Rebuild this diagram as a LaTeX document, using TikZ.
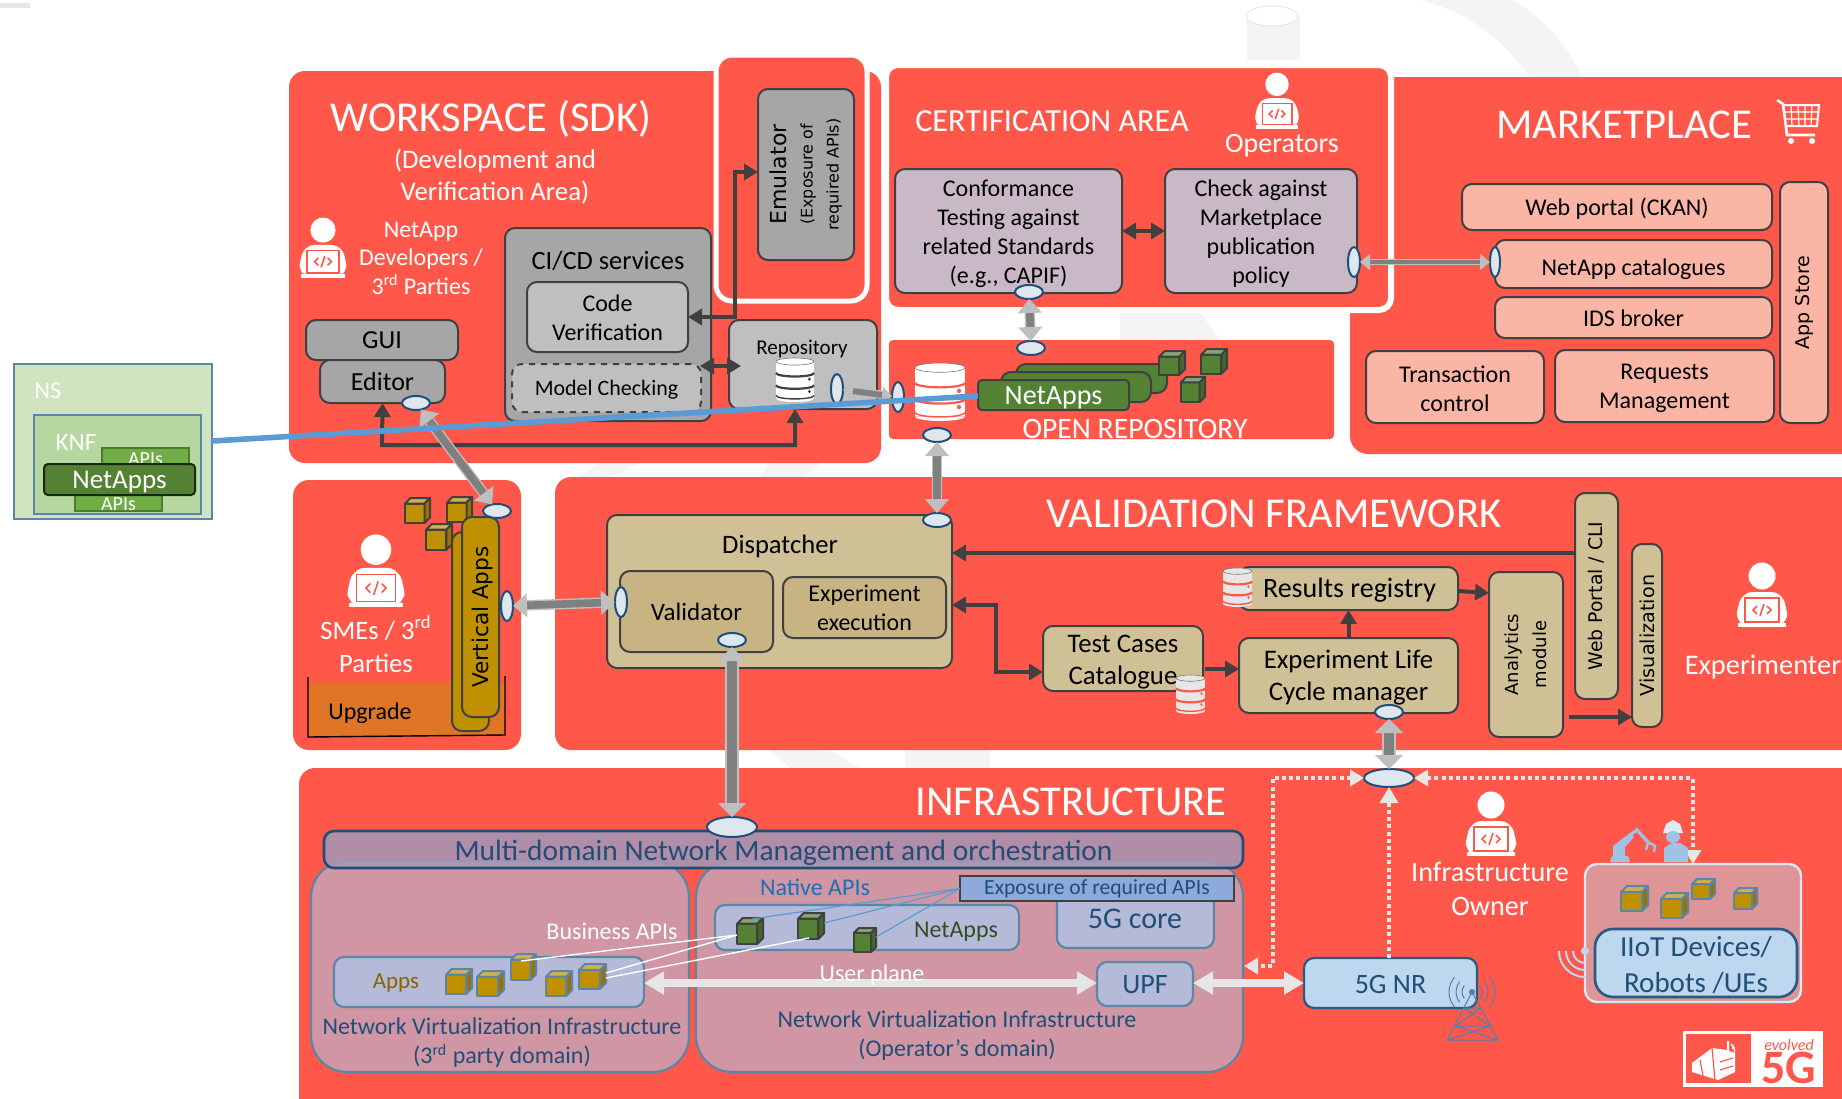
\documentclass[tikz,border=0pt]{standalone}
\usepackage{fontspec}
\setmainfont{Carlito}
\newfontfamily\djv{DejaVu Sans}
\usetikzlibrary{arrows.meta,shapes.geometric,calc}
\definecolor{redbg}{HTML}{FF584A}
\definecolor{greyA}{HTML}{A6A6A6}
\definecolor{greyB}{HTML}{BFBFBF}
\definecolor{darkln}{HTML}{404040}
\definecolor{lilac}{HTML}{C9B8C6}
\definecolor{salmon}{HTML}{FBB5A5}
\definecolor{tan}{HTML}{D0C096}
\definecolor{tanB}{HTML}{C8B482}
\definecolor{gold}{HTML}{BF9000}
\definecolor{nvi}{HTML}{D096A3}
\definecolor{peri}{HTML}{B4BAD8}
\definecolor{navy}{HTML}{1F4E79}
\definecolor{steel}{HTML}{5B86A8}
\definecolor{lblue}{HTML}{BDD7EE}
\definecolor{green}{HTML}{548235}
\definecolor{greenL}{HTML}{70AD47}
\definecolor{wm}{HTML}{F4F4F4}
\definecolor{whiteish}{HTML}{E6E6E6}
\definecolor{mdomc}{HTML}{A796B5}
\definecolor{expoc}{HTML}{8EA9DB}
\definecolor{linkb}{HTML}{5B9BD5}
\definecolor{upgc}{HTML}{DF7525}
\definecolor{nsc}{HTML}{D0E4C0}
\definecolor{knfc}{HTML}{B7D7A0}
\definecolor{iotc}{HTML}{DE9598}
\definecolor{robc}{HTML}{9DC3E6}
\definecolor{native}{HTML}{1F6FB5}
\definecolor{towerc}{HTML}{4F7FB0}
\definecolor{shaft}{HTML}{808080}
\tikzset{
  x=0.5pt,y=-0.5pt,
  every node/.style={inner sep=0pt,outer sep=0pt,align=center,text=black},
  region/.style={fill=redbg,rounded corners=8pt},
  box/.style={draw=darkln,line width=1pt,rounded corners=5pt,font=\fontsize{12}{14.5}\selectfont},
  gbox/.style={box,fill=greyA},
  gboxL/.style={box,fill=greyB},
  lilacbox/.style={box,fill=lilac},
  salbox/.style={box,fill=salmon},
  tanbox/.style={box,fill=tan},
  tanboxB/.style={box,fill=tanB},
  perbox/.style={draw=steel,line width=1.1pt,fill=peri,rounded corners=5pt,text=navy,font=\fontsize{12.5}{15}\selectfont},
  bluebox/.style={draw=navy!80!steel,line width=1.1pt,fill=lblue,rounded corners=5pt,text=navy,font=\fontsize{14}{17}\selectfont},
  wt/.style={text=white,font=\fontsize{12}{14.5}\selectfont},
  bigwt/.style={text=white,font=\fontsize{21.3}{25}\selectfont},
  rot/.style={rotate=90,font=\djv\fontsize{9.4}{11}\selectfont},
  port/.style={ellipse,draw=navy,fill=white!80!steel,line width=1pt},
  portH/.style={port,minimum width=14pt,minimum height=7pt},
  portV/.style={port,minimum width=6pt,minimum height=15pt},
  darr/.style={draw=darkln,line width=2pt,-{Triangle[width=8pt,length=7pt]}},
  darrb/.style={draw=darkln,line width=2pt,{Triangle[width=8pt,length=7pt]}-{Triangle[width=8pt,length=7pt]}},
  gdbl/.style={draw=greyB,line width=.7pt,double=shaft,double distance=3.8pt,{Triangle[width=12pt,length=7pt,fill=greyB,color=greyB]}-{Triangle[width=12pt,length=7pt,fill=greyB,color=greyB]}},
  gfat/.style={draw=greyB,line width=.7pt,double=shaft,double distance=5.4pt,{Triangle[width=14pt,length=7pt,fill=greyB,color=greyB]}-{Triangle[width=14pt,length=7pt,fill=greyB,color=greyB]}},
  gthin/.style={draw=greyB,line width=.6pt,double=shaft,double distance=2.2pt,{Triangle[width=8pt,length=5pt,fill=greyB,color=greyB]}-{Triangle[width=8pt,length=5pt,fill=greyB,color=greyB]}},
  wdbl/.style={draw=whiteish,line width=4pt,{Triangle[width=11pt,length=10pt]}-{Triangle[width=11pt,length=10pt]}},
  dots/.style={draw=whiteish,line width=1.7pt,dash pattern=on 2pt off 1.6pt},
  dotarr/.style={dots,-{Triangle[width=9pt,length=8pt]}},
  dotarrb/.style={dots,{Triangle[width=8pt,length=7pt]}-{Triangle[width=8pt,length=7pt]}},
  pics/person/.style={code={
    \fill[white] (0,13) ellipse (13.5 and 13.5);
    \fill[white,rounded corners=2pt] (-14,29) -- (14,29) -- (22,36) -- (26,54) -- (21,59) -- (21,62) -- (-21,62) -- (-21,59) -- (-26,54) -- (-22,36) -- cycle;
    \draw[redbg,line width=.7pt,fill=white] (-17,35) rectangle (17,59);
    \fill[white] (-24,60) rectangle (24,64);
    \draw[redbg,line width=.8pt] (-5,43) -- (-9,47) -- (-5,51) (5,43) -- (9,47) -- (5,51) (-2,53) -- (2,41);
  }},
}
\def\bxts{2}
\newcommand{\bx}[7][]{%
  \pgfmathsetmacro\bxc{(#3+#5)/2}\pgfmathsetmacro\byc{(#4+#6)/2}%
  \pgfmathsetmacro\bxw{(#5-#3)*0.5}\pgfmathsetmacro\bxh{(#6-#4)*0.5}%
  \pgfmathsetmacro\byt{\byc+\bxts}%
  \node[#1,minimum width=\bxw pt,minimum height=\bxh pt] (#2) at (\bxc,\byc) {};
  \node[#1,draw=none,fill=none] (#2-t) at (\bxc,\byt) {#7};}
\newcommand{\cube}[6]{% x1 y1 x2 y2 front stroke
  \pgfmathsetmacro\cd{(#3-#1)*0.22}%
  \pgfmathsetmacro\cxa{#1+\cd}\pgfmathsetmacro\cya{#2+\cd}%
  \pgfmathsetmacro\cxb{#3-\cd}\pgfmathsetmacro\cyb{#4-\cd}%
  \draw[#6,line width=1pt,fill=#5,line join=round] (#1,\cya) rectangle (\cxb,#4);
  \draw[#6,line width=1pt,fill=#5!70!white,line join=round] (#1,\cya) -- (\cxa,#2) -- (#3,#2) -- (\cxb,\cya) -- cycle;
  \draw[#6,line width=1pt,fill=#5!80!black,line join=round] (\cxb,\cya) -- (#3,#2) -- (#3,\cyb) -- (\cxb,#4) -- cycle;}
\newcommand{\dbicon}[6]{% x1 y1 x2 y2 fill stripe
  \pgfmathsetmacro\dbw{(#3-#1)/100}\pgfmathsetmacro\dbh{(#4-#2)/100}%
  \begin{scope}[shift={(#1,#2)},xscale=\dbw,yscale=\dbh]
    \fill[#5] (0,8) rectangle (100,92);
    \fill[#5] (100,92) arc (0:180:50 and 8) -- cycle;
    \fill[#5] (50,8) ellipse (50 and 8);
    \draw[darkln!70,line width=.3pt] (50,8) ellipse (50 and 8);
    \draw[#6,line width=1.1pt] (0,34) arc (180:0:50 and 8);
    \draw[#6,line width=1.1pt] (0,62) arc (180:0:50 and 8);
    \draw[#6,line width=.7pt] (0,85) arc (180:0:50 and 8);
    \fill[#6] (88,48) circle (4) (88,76) circle (4);
  \end{scope}}
\begin{document}
\begin{tikzpicture}
\useasboundingbox (0,0) rectangle (1842,1098);
% faint watermark
\fill[whiteish] (0,3) rectangle (30,8);
\fill[wm] (1247,16) -- (1247,60) -- (1300,60) -- (1300,16) -- cycle;
\draw[whiteish,fill=white,line width=.5pt] (1272,16) ellipse (26 and 10);
\fill[wm] (1420,0) .. controls (1480,15) and (1510,50) .. (1530,77) -- (1582,77) .. controls (1565,40) and (1540,15) .. (1512,0) -- cycle;
\fill[wm] (1120,312) -- (1200,312) -- (1220,340) -- (1120,340) -- cycle;
\fill[wm] (600,463) -- (640,463) -- (610,477) -- (580,477) -- cycle;
\fill[wm] (770,463) -- (820,463) -- (805,477) -- (760,477) -- cycle;
\fill[wm] (770,750) -- (830,750) -- (860,768) -- (790,768) -- cycle;
\fill[wm] (905,750) -- (990,750) -- (990,768) -- (905,768) -- cycle;
% regions
\fill[redbg,rounded corners=9pt] (1350,77) rectangle (1860,454);
\path[region] (289,71) rectangle (881,463);
\draw[white,line width=2.5pt,fill=redbg,rounded corners=8pt] (716,55) rectangle (867,301);
\draw[white,line width=3pt,fill=redbg,rounded corners=6pt] (886,65) rectangle (1391,310);
\fill[redbg,rounded corners=2pt] (889,340) rectangle (1334,439);
\path[region] (293,480) rectangle (521,750);
\path[region] (555,477) rectangle (1870,750);
\path[region] (299,768) rectangle (1870,1120);

% ---- Marketplace
\node[bigwt] (mkt) at (1624,125) {MARKETPLACE};
\draw[white,line width=1.3pt] (1777,100) -- (1783,104) -- (1787,135) -- (1815,135);
\draw[white,line width=1pt] (1784,105) -- (1819,105) -- (1817,126) -- (1786,126);
\draw[white,line width=.6pt] (1791,105) -- (1792,126) (1798,105) -- (1799,126) (1805,105) -- (1805,126) (1812,105) -- (1811,126) (1785,112) -- (1818,112) (1785,119) -- (1818,119);
\fill[white] (1791,141) circle (3) (1812,141) circle (3);
\bx[salbox]{webp}{1462}{184}{1772}{230}{Web portal (CKAN)}
\def\bxts{5}
\bx[salbox]{cat}{1495}{240}{1772}{288}{NetApp catalogues}
\def\bxts{1}
\bx[salbox]{ids}{1495}{297}{1772}{338}{IDS broker}
\def\bxts{2}
\bx[salbox]{trans}{1366}{351}{1544}{423}{Transaction\\control}
\bx[salbox]{req}{1555}{350}{1774}{422}{Requests\\Management}
\bx[salbox]{store}{1780}{182}{1828}{423}{}
\node[rot,font=\djv\fontsize{9.5}{11}\selectfont] (storet) at (store) {App Store};

% ---- Certification
\node[wt,font=\fontsize{16.1}{19}\selectfont] (certt) at (1052,121) {CERTIFICATION AREA};
\pic[scale=.87] at (1277,73) {person};
\node[wt,font=\fontsize{14}{17}\selectfont] (opst) at (1282,146) {Operators};
\def\bxts{3}
\bx[lilacbox]{conf}{895}{169}{1122}{293}{Conformance\\Testing against\\related Standards\\(e.g., CAPIF)}
\bx[lilacbox]{chk}{1165}{169}{1357}{293}{Check against\\Marketplace\\publication\\policy}
\draw[darrb] (conf) -- (chk);
\node[portH] (pconf) at (1029,292) {};
\node[portV] (pchk) at (1354,262) {};
\node[portV,minimum width=5pt] (pcat) at (1495,262) {};
\draw[gthin] (pchk) -- (pcat);

% ---- Open repository
\node[portH] (prepoT) at (1031,348) {};
\draw[gdbl] (pconf) -- (prepoT);
\bx[box,fill=green]{na3}{1016}{364}{1167}{393}{}
\bx[box,fill=green]{na2}{1001}{372}{1151}{402}{}
\bx[box,fill=green,rounded corners=2pt,font=\fontsize{14}{16}\selectfont]{na1}{978}{380}{1129}{410}{\textcolor{white}{NetApps}}
\cube{1159}{351}{1185}{375}{green}{darkln}
\cube{1201}{349}{1227}{374}{green}{darkln}
\cube{1181}{377}{1205}{402}{green}{darkln}
\dbicon{915}{363}{965}{421}{white}{redbg}
\node[wt,font=\fontsize{14.8}{17}\selectfont] (ort) at (1135,429) {OPEN REPOSITORY};
\node[portV,minimum width=6pt] (pdb) at (898,397) {};
\node[portH] (pdbB) at (937,435) {};

% ---- Workspace
\node[bigwt] (wst) at (491,119) {WORKSPACE (SDK)};
\node[wt,font=\fontsize{13.4}{16}\selectfont] (wst2) at (495,177) {(Development and\\Verification Area)};
\pic[scale=.93] at (323,218) {person};
\node[wt,font=\fontsize{12}{14.2}\selectfont] (devt) at (421,258) {NetApp\\Developers /\\3\textsuperscript{rd} Parties};
\bx[gbox]{emu}{758}{89}{854}{260}{}
\node[rotate=90,font=\djv\fontsize{8}{13}\selectfont] (emut) at (emu) {\fontsize{11}{13}\selectfont Emulator\\\fontsize{8}{13}\selectfont (Exposure of\\required APIs)};
\bx[gbox]{cicd}{505}{228}{711}{421}{}
\node[font=\fontsize{13.2}{15}\selectfont] (cicdt) at (608,261) {CI/CD services};
\def\bxts{1}
\bx[gboxL]{code}{527}{282}{688}{352}{Code\\Verification}
\def\bxts{2}
\bx[gbox,dashed,fill=greyB,font=\fontsize{11}{13}\selectfont]{model}{512}{364}{701}{412}{Model Checking}
\bx[gboxL]{repo}{729}{320}{877}{409}{}
\node[font=\fontsize{10.5}{13}\selectfont] (repot) at (802,349) {Repository};
\dbicon{776}{358}{814}{402}{white}{darkln}
\def\bxts{0}
\bx[gbox,font=\fontsize{13}{15}\selectfont]{gui}{306}{320}{458}{360}{GUI}
\bx[gbox,font=\fontsize{13}{15}\selectfont]{edit}{320}{360}{445}{403}{Editor}
\def\bxts{3}
\node[portH] (pedit) at (416,403) {};
\node[portV] (prepo) at (837,389) {};
\coordinate (repoB) at (795,409);
\coordinate (repoLow) at (795,445);
\coordinate (editLow) at (382,445);
\draw[darrb] (edit.south) -- (editLow) -- (repoLow) -- (repoB);
\coordinate (codeE) at (735,317);
\coordinate (emuA) at (735,172);
\draw[darrb] (code.east) -- (codeE) -- (emuA) -- (emu.west |- emuA);
\coordinate (mcA) at (700,366);
\coordinate (rpA) at (741,366);
\draw[darrb] (mcA) -- (rpA);

% ---- SMEs
\fill[upgc] (308.5,683) rectangle (505,736);
\draw[black,line width=.7pt] (308,677) -- (308,737) -- (505,735) -- (505,676);
\node[font=\fontsize{12}{14}\selectfont] (upg) at (370,713) {Upgrade};
\pic[scale=1.13] at (376,535) {person};
\node[wt,font=\fontsize{13.3}{16.5}\selectfont] (smet) at (376,644) {SMEs / 3\textsuperscript{rd}\\Parties};
\cube{405}{498}{430}{523}{gold}{darkln}
\cube{447}{497}{472}{522}{gold}{darkln}
\cube{426}{524}{452}{550}{gold}{darkln}
\bx[box,fill=gold]{vb}{452}{532}{489}{731}{}
\bx[box,fill=gold]{va}{462}{517}{499}{717}{}
\node[rot,font=\djv\fontsize{10.8}{12}\selectfont] (vat) at (483,617) {Vertical Apps};
\node[portH] (pva) at (497,511) {};
\draw[gdbl] (pedit) -- (pva);
\node[portV] (pvl) at (507,606) {};

% ---- Validation
\node[bigwt] (vft) at (1274,514) {VALIDATION FRAMEWORK};
\bx[tanbox]{disp}{607}{515}{952}{668}{}
\node[font=\fontsize{13.3}{15}\selectfont] (dispt) at (780,546) {Dispatcher};
\def\bxts{0}
\bx[tanboxB,font=\fontsize{12.5}{15}\selectfont]{vali}{620}{571}{773}{652}{Validator}
\bx[tanboxB]{expx}{783}{577}{946}{638}{Experiment\\execution}
\def\bxts{4}
\node[portH] (pdisp) at (937,520) {};
\draw[gdbl] (pdbB) -- (pdisp);
\node[portV] (pval) at (621,602) {};
\draw[gdbl] (pvl) -- (pval);
\node[portH] (pvalB) at (732,640) {};
\bx[tanbox,font=\fontsize{13.4}{16}\selectfont]{tc}{1043}{626}{1203}{691}{Test Cases\\Catalogue}
\dbicon{1176}{675}{1205}{714}{whiteish}{redbg}
\def\bxts{2}
\bx[tanbox,font=\fontsize{13.4}{16}\selectfont]{life}{1239}{638}{1458}{713}{Experiment Life\\Cycle manager}
\bx[tanbox,font=\fontsize{14}{16}\selectfont]{res}{1239}{567}{1458}{610}{\hspace*{1pt}Results registry}
\dbicon{1223}{568}{1252}{607}{whiteish}{redbg}
\bx[tanbox]{ana}{1489}{572}{1563}{737}{}
\node[rot,font=\djv\fontsize{9}{14}\selectfont] (anat) at (ana) {Analytics\\module};
\bx[tanbox]{web}{1575}{493}{1618}{699}{}
\node[rot] (webt) at (web) {Web Portal / CLI};
\bx[tanbox]{vis}{1632}{544}{1662}{727}{}
\node[rot,font=\djv\fontsize{9.6}{11}\selectfont] (vist) at (vis) {Visualization};
\pic at (1762,563) {person};
\node[wt,font=\fontsize{14.2}{17}\selectfont] (expt) at (1763,667) {Experimenter};
\coordinate (webL) at (1575,553);
\draw[darr] (webL) -- (disp.east |- webL);
\coordinate (dispR) at (952,605);
\coordinate (dispT) at (996,605);
\coordinate (dispU) at (996,672);
\coordinate (tcL) at (1043,672);
\draw[darrb] (dispR) -- (dispT) -- (dispU) -- (tcL);
\coordinate (tcR) at (1205,669);
\draw[darr] (tcR) -- (life.west |- tcR);
\draw[darr] (life.north) -- (res.south);
\coordinate (anaL) at (1489,593);
\coordinate (resE) at (1458,591);
\draw[darr] (resE) -- (anaL);
\coordinate (anaR) at (1569,717);
\draw[darr] (anaR) -- (vis.west |- anaR);
\node[portH] (plife) at (1389,712) {};

% ---- Infrastructure
\node[bigwt] (inft) at (1071,802) {INFRASTRUCTURE};
\node[portH,minimum width=25pt,minimum height=9pt] (pmid) at (1389,778) {};
\draw[gfat] (plife) -- (pmid);
\bx[draw=steel,line width=1.1pt,fill=nvi,rounded corners=18pt]{nvil}{311}{861}{689}{1072}{}
\bx[draw=steel,line width=1.1pt,fill=nvi,rounded corners=18pt]{nvir}{696}{861}{1243}{1072}{}
\def\bxts{3}
\bx[draw=navy,line width=1.3pt,fill=mdomc,fill opacity=.88,text opacity=1,rounded corners=5pt,text=navy,font=\fontsize{14.7}{18}\selectfont]{mdom}{324}{831}{1243}{868}{Multi-domain Network Management and orchestration}
\node[portH,minimum width=25pt,minimum height=10pt] (pinf) at (732,827) {};
\draw[gfat] (pvalB) -- (pinf);
\node[text=navy,font=\fontsize{12}{14.5}\selectfont] (nvilt) at (502,1043) {Network Virtualization Infrastructure\\(3\textsuperscript{rd} party domain)};
\node[text=navy,font=\fontsize{12}{14.5}\selectfont] (nvirt) at (957,1036) {Network Virtualization Infrastructure\\(Operator’s domain)};
\bx[perbox]{g5}{1057}{885}{1214}{948}{}
\node[text=navy,font=\fontsize{15}{17}\selectfont] (g5t) at (1135,919) {5G core};
\def\bxts{0}
\bx[draw=darkln,line width=1pt,fill=expoc,text=navy,font=\fontsize{10.8}{13}\selectfont]{expo}{960}{876}{1234}{901}{Exposure of required APIs}
\node[text=native,font=\fontsize{12}{14}\selectfont] (nat) at (815,887) {Native APIs};
\bx[perbox]{nab}{715}{905}{1019}{950}{}
\node[text=green!60!black,font=\fontsize{12}{14}\selectfont] (nabt) at (956,932) {NetApps};
\bx[perbox]{apb}{334}{957}{644}{1007}{}
\node[text=gold!70!black,font=\fontsize{11.5}{14}\selectfont] (apbt) at (396,983) {Apps};
\cube{446}{969}{472}{994}{gold}{steel}
\cube{477}{971}{504}{996}{gold}{steel}
\cube{511}{954}{536}{980}{gold}{steel}
\cube{546}{971}{572}{996}{gold}{steel}
\cube{579}{964}{606}{989}{gold}{steel}
\cube{737}{918}{763}{944}{green}{darkln}
\cube{798}{913}{824}{939}{green}{darkln}
\cube{854}{928}{876}{952}{green}{darkln}
\coordinate (g1) at (752,919);
\coordinate (g2) at (824,923);
\coordinate (g3) at (876,937);
\draw[linkb,line width=.6pt] (expo.west) -- (g1) (expo.west) -- (g2) (expo.west) -- (g3);
\node[wt,font=\fontsize{12}{14}\selectfont] (bust) at (612,931) {Business APIs};
\coordinate (c3) at (521,961);
\coordinate (c5a) at (606,973);
\coordinate (c5b) at (606,978);
\coordinate (gA) at (737,935);
\coordinate (gB) at (809,938);
\draw[white,line width=.7pt] (c3) -- (gA) (c5a) -- (gA) (c5b) -- (gB);
\def\bxts{1}
\bx[perbox]{upf}{1097}{962}{1193}{1006}{\fontsize{14}{16}\selectfont UPF}
\coordinate (apbE) at (644,983);
\coordinate (upfW) at (1097,983);
\draw[wdbl] (apbE) -- (upfW);
\node[wt,font=\fontsize{12}{14}\selectfont] (upt) at (872,975) {User plane};
\bx[bluebox]{nr}{1304}{958}{1477}{1008}{5G NR}
\coordinate (upfE) at (1193,983);
\draw[wdbl] (upfE) -- (nr.west |- upfE);
% tower
\begin{scope}[draw=towerc,line width=.5pt,double=robc,double distance=.6pt]
\draw (1472,992) -- (1447,1040) -- (1498,1040) -- cycle;
\draw (1464,1008) -- (1481,1008) (1464,1008) -- (1490,1026) (1481,1008) -- (1455,1026) (1455,1026) -- (1490,1026) (1455,1026) -- (1498,1040) (1490,1026) -- (1447,1040);
\draw (1472,992) ++(140:10) arc (140:220:10) (1472,992) ++(140:16) arc (140:220:16) (1472,992) ++(140:23) arc (140:220:23);
\draw (1472,992) ++(-40:10) arc (-40:40:10) (1472,992) ++(-40:16) arc (-40:40:16) (1472,992) ++(-40:23) arc (-40:40:23);
\end{scope}
\fill[towerc] (1472,992) circle (3);
% dotted links
\coordinate (mL) at (1273,778);
\coordinate (mLb) at (1273,966);
\coordinate (upfN) at (1244,966);
\draw[dotarrb] (pmid) -- (mL) -- (mLb) -- (upfN);
\coordinate (mR) at (1693,778);
\coordinate (iotT) at (1693,864);
\draw[dotarrb] (pmid) -- (mR) -- (iotT);
\coordinate (nrN) at (1389,958);
\draw[dotarr] (nrN) -- (pmid);
\pic at (1491,792) {person};
\node[wt,font=\fontsize{14.1}{16.7}\selectfont] (infot) at (1490,889) {Infrastructure\\Owner};
\bx[draw=lblue!60!white,line width=1.2pt,fill=iotc,rounded corners=6pt]{iot}{1585}{864}{1801}{1002}{}
\cube{1621}{886}{1648}{911}{gold}{steel}
\cube{1661}{893}{1688}{918}{gold}{steel}
\cube{1692}{879}{1715}{899}{gold}{steel}
\cube{1734}{888}{1757}{909}{gold}{steel}
\def\bxts{2}
\bx[bluebox,rounded corners=9pt,line width=1.3pt,font=\fontsize{14.5}{17.6}\selectfont]{iotb}{1595}{929}{1797}{997}{IIoT Devices/\\Robots /UEs}
% wifi
\begin{scope}[lblue,line width=1pt]
\fill (1585,951) circle (4);
\draw (1585,951) ++(90:12) arc (90:180:12) (1585,951) ++(90:19) arc (90:180:19) (1585,951) ++(90:26) arc (90:180:26);
\end{scope}
% robot & worker
\begin{scope}[robc]
\fill (1610,862) -- (1630,862) -- (1628,856) -- (1612,856) -- cycle;
\fill (1613,856) -- (1613,846) -- (1630,833) -- (1634,837) -- (1625,847) -- (1625,856) -- cycle;
\draw[line width=1.6pt] (1630,835) -- (1637,830) -- (1648,842);
\draw[line width=1.2pt] (1648,842) -- (1655,846) -- (1654,852) (1648,842) -- (1646,850);
\fill (1664,862) -- (1664,848) -- (1672,843) -- (1680,843) -- (1688,848) -- (1688,862) -- cycle;
\fill[lblue!50!white] (1663,833) -- (1683,833) -- (1680,824) -- (1673,820) -- (1666,824) -- cycle;
\fill (1673,837) ellipse (7 and 6);
\end{scope}
% logo
\fill[white] (1683,1031) rectangle (1823,1087);
\fill[redbg] (1686,1034) rectangle (1751,1083);
\fill[white] (1692,1072) -- (1692,1063) -- (1712,1048) -- (1727,1050) -- (1727,1041) -- (1729,1041) -- (1729,1051) -- (1735,1053) -- (1735,1072) -- (1718,1080) -- cycle;
\draw[redbg,line width=.6pt] (1712,1048) -- (1715,1080) (1700,1060) -- (1703,1076) (1720,1062) -- (1733,1058) (1720,1070) -- (1733,1066);
\draw[white,line width=.6pt] (1731,1044) arc (-60:20:4) (1731,1044) arc (-60:20:7);
\node[text=redbg,font=\itshape\fontsize{8}{9}\selectfont] (evo) at (1789,1045) {evolved};
\node[text=redbg,font=\bfseries\fontsize{24}{26}\selectfont] (fiveg) at (1789,1068) {5G};
% NS
\bx[draw=steel,line width=1.3pt,fill=nsc]{ns}{14}{364}{212}{519}{}
\node[text=white,font=\fontsize{12}{14}\selectfont] (nst) at (48,391) {NS};
\bx[draw=steel,line width=1.3pt,fill=knfc]{knf}{34}{415}{201}{514}{}
\node[text=white,font=\fontsize{12.5}{14}\selectfont] (knft) at (76,442) {KNF};
\def\bxts{3}
\bx[draw=greenL!70!black,line width=.8pt,fill=greenL,font=\fontsize{10}{12}\selectfont]{apiT}{102}{448}{189}{465}{\textcolor{white}{APIs}}
\def\bxts{1}
\bx[draw=greenL!70!black,line width=.8pt,fill=greenL,font=\fontsize{10}{12}\selectfont]{apiB}{75}{495}{162}{511}{\textcolor{white}{APIs}}
\def\bxts{3}
\bx[draw=black!70!green,line width=1pt,fill=green,rounded corners=2pt,font=\fontsize{13.5}{15}\selectfont]{nsna}{44}{464}{195}{495}{\textcolor{white}{NetApps}}
% blue link and repo arrow
\draw[gthin,double distance=3pt] (prepo) -- (pdb);
\coordinate (nsE) at (212,441);
\coordinate (naW) at (978,396);
\draw[linkb,line width=2.8pt] (nsE) -- (naW);
\end{tikzpicture}
\end{document}
